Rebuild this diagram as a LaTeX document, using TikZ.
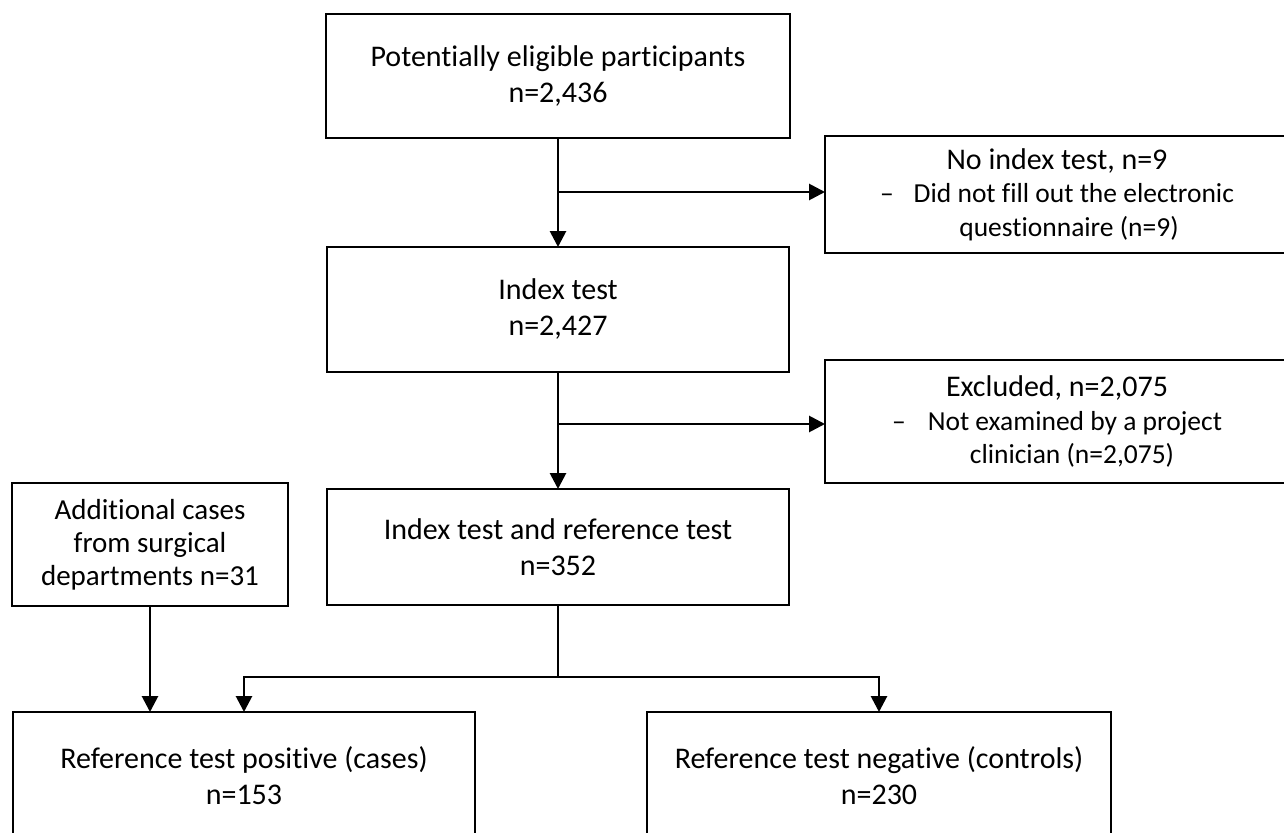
\documentclass[tikz,border=0pt]{standalone}
\usepackage{fontspec}
\setmainfont{Carlito}[RawFeature={-liga;-clig;-calt}]
\usetikzlibrary{arrows.meta}
\tikzset{
  box/.style={draw, line width=2.8pt, align=center, inner sep=0pt, outer sep=0pt,
    font=\fontsize{30}{36}\selectfont},
  subbox/.style={box, font=\fontsize{27.5}{33.5}\selectfont},
  conn/.style={line width=2.8pt},
  arr/.style={conn, -{Triangle[length=16pt,width=16pt]}},
}
\begin{document}
\begin{tikzpicture}[x=1pt,y=-1pt]
\useasboundingbox (0,0) rectangle (1284,832);
\clip (0,0) rectangle (1284,832);
\node[box, minimum width=464pt, minimum height=124pt] (b1) at (558,76)
  {Potentially eligible participants\\n=2,436};
\node[subbox, minimum width=464pt, minimum height=117pt] (noidx) at (1057,194.5)
  {{\fontsize{30}{33.5}\selectfont No index test, n=9}\\
   –\hspace{20pt}Did not fill out the electronic\\
   \hspace*{24pt}questionnaire (n=9)};
\node[box, minimum width=462pt, minimum height=125pt] (idx) at (558,309.5)
  {Index test\\n=2,427};
\node[subbox, minimum width=464pt, minimum height=123pt] (excl) at (1057,421.5)
  {{\fontsize{30}{33.5}\selectfont Excluded, n=2,075}\\
   –\hspace{22pt}Not examined by a project\\
   \hspace*{30pt}clinician (n=2,075)};
\node[box, minimum width=462pt, minimum height=116pt] (idxref) at (558,547)
  {Index test and reference test\\n=352};
\node[box, minimum width=276pt, minimum height=123pt,
  font=\fontsize{29}{33}\selectfont] (add) at (150,544.5)
  {Additional cases\\from surgical\\departments n=31};
\node[box, minimum width=462pt, minimum height=128pt] (pos) at (244,776)
  {Reference test positive (cases)\\n=153};
\node[box, minimum width=464pt, minimum height=128pt] (neg) at (879,776)
  {Reference test negative (controls)\\n=230};
\coordinate (j1) at (558,192);
\coordinate (j2) at (558,424);
\coordinate (j3) at (558,677);
\draw[arr] (b1.south) -- (b1.south |- idx.north);
\draw[arr] (j1) -- (j1 -| noidx.west);
\draw[arr] (idx.south) -- (idx.south |- idxref.north);
\draw[arr] (j2) -- (j2 -| excl.west);
\draw[conn] (idxref.south) -- (j3);
\draw[arr] (j3) -| (pos.north);
\draw[arr] (j3) -| (neg.north);
\draw[arr] (add.south) -- (add.south |- pos.north);
\end{tikzpicture}
\end{document}
